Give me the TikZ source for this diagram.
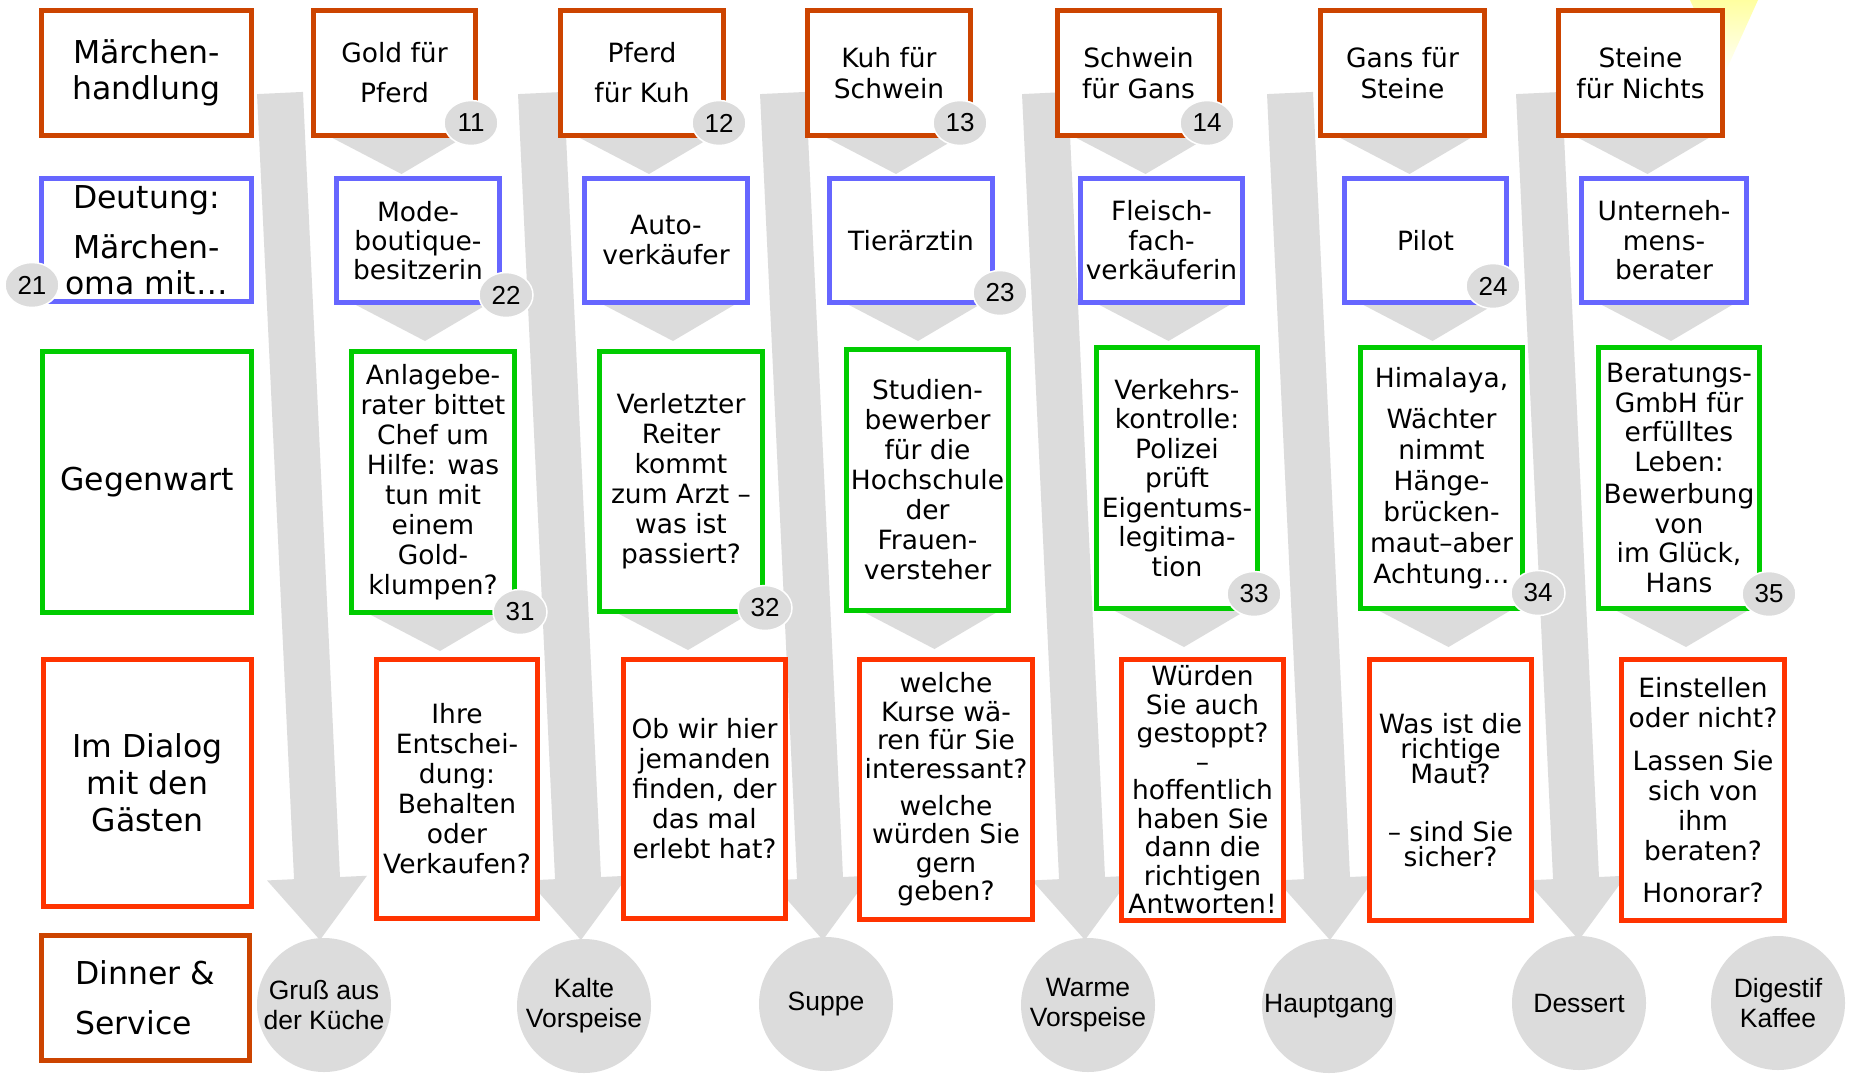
\documentclass[tikz,border=0pt]{standalone}
\usepackage{fontspec}
\setmainfont{DejaVu Sans}
\newfontfamily\arialf{Liberation Sans}
\usetikzlibrary{shapes.geometric,calc}
\definecolor{gr}{RGB}{220,220,220}
\definecolor{cbrown}{RGB}{204,68,0}
\definecolor{cblue}{RGB}{102,102,255}
\definecolor{cgreen}{RGB}{0,204,0}
\definecolor{cred}{RGB}{255,51,0}
\definecolor{pyel}{RGB}{255,255,160}
\newcommand{\fs}[2]{\fontsize{#1}{#2}\selectfont\lineskiplimit=-100pt\relax}
\pgfdeclarelayer{bg}
\pgfsetlayers{bg,main}
\tikzset{
 boxbase/.style={draw, line width=5pt, fill=white, inner sep=0pt, align=center, font=\fs{26.5}{30}},
 brownbox/.style={boxbase, draw=cbrown},
 bluebox/.style={boxbase, draw=cblue},
 greenbox/.style={boxbase, draw=cgreen},
 redbox/.style={boxbase, draw=cred},
 labelfont/.style={font=\fs{31.5}{36}},
 badge/.style={ellipse, fill=gr, draw=white, line width=1.5pt, minimum width=54pt, minimum height=45pt, inner sep=0pt, font=\arialf\fs{26}{28}},
 course/.style={circle, fill=gr, minimum size=134pt, inner sep=0pt, align=center, font=\arialf\fs{26.5}{30}},
}
\newcommand{\mybox}[7]{%
  \node[#2, minimum width={(#4-#3-5)*1pt}, minimum height={(#6-#5-5)*1pt}] (#1) at ({(#3+#4)/2},{(#5+#6)/2}) {#7};}
\newcommand{\chev}[1]{\fill[gr] ($(#1.south)+(-62,0)$) -- ($(#1.south)+(68,0)$) -- ($(#1.south)+(7,36)$) -- cycle;}
\begin{document}
\begin{tikzpicture}[x=1pt,y=-1pt]
\useasboundingbox (0,0) rectangle (1870,1074);
\begin{pgfonlayer}{bg}
\fill[white] (0,0) rectangle (1870,1074);
\shade[top color=pyel, bottom color=white] (1690,0) -- (1758,0) -- (1724,75) -- cycle;
\foreach \xt in {280,541,783,1045,1290,1539}{
 \begin{scope}[shift={(\xt,93)}, rotate=2.7]
  \fill[gr] (-23,0) -- (23,0) -- (23,786) -- (50,786) -- (0,848) -- (-50,786) -- (-23,786) -- cycle;
 \end{scope}}
\end{pgfonlayer}

% label column
\mybox{lA}{brownbox,labelfont}{39}{254}{8}{138}{Märchen-\\handlung}
\mybox{lB}{bluebox,labelfont}{39}{254}{176}{304}{Deutung:\\[14pt]Märchen-\\oma mit…}
\mybox{lC}{greenbox,labelfont}{40}{254}{349}{615}{Gegenwart}
\mybox{lD}{redbox,font=\fs{31.5}{37}}{41}{254}{657}{909}{Im Dialog\\mit den\\Gästen}
\mybox{lE}{brownbox,align=left,font=\fs{31.5}{50}}{39}{252}{933}{1063}{Dinner \&\\Service}

% row 1
\mybox{a1}{brownbox,font=\fs{26.5}{40}}{311}{478}{8}{138}{Gold für\\Pferd}
\mybox{a2}{brownbox,font=\fs{26.5}{40}}{558}{726}{8}{138}{Pferd\\für Kuh}
\mybox{a3}{brownbox,font=\fs{26.5}{31}}{805}{973}{8}{138}{Kuh für\\Schwein}
\mybox{a4}{brownbox,font=\fs{26.5}{31}}{1055}{1222}{8}{138}{Schwein\\für Gans}
\mybox{a5}{brownbox,font=\fs{26.5}{31}}{1318}{1487}{8}{138}{Gans für\\Steine}
\mybox{a6}{brownbox,font=\fs{26.5}{31}}{1556}{1725}{8}{138}{Steine\\für Nichts}

% row 2
\mybox{b1}{bluebox,font=\fs{26.5}{29}}{334}{502}{176}{305}{Mode-\\boutique-\\besitzerin}
\mybox{b2}{bluebox}{582}{750}{176}{305}{Auto-\\verkäufer}
\mybox{b3}{bluebox}{827}{995}{176}{305}{Tierärztin}
\mybox{b4}{bluebox,font=\fs{26.5}{29.5}}{1078}{1245}{176}{305}{Fleisch-\\fach-\\verkäuferin}
\mybox{b5}{bluebox}{1342}{1509}{176}{305}{Pilot}
\mybox{b6}{bluebox,font=\fs{26.5}{29.5}}{1579}{1749}{176}{305}{Unterneh-\\mens-\\berater}

% row 3
\mybox{c1}{greenbox}{349}{517}{349}{615}{Anlagebe-\\rater bittet\\Chef um\\Hilfe: was\\tun mit\\einem\\Gold-\\klumpen?}
\mybox{c2}{greenbox}{597}{765}{349}{614}{Verletzter\\Reiter\\kommt\\zum Arzt –\\was ist\\passiert?}
\mybox{c3}{greenbox}{844}{1011}{347}{613}{Studien-\\bewerber\\für die\\Hochschule\\der\\Frauen-\\versteher}
\mybox{c4}{greenbox,font=\fs{26.5}{29.5}}{1094}{1260}{345}{611}{Verkehrs-\\kontrolle:\\Polizei\\prüft\\Eigentums-\\legitima-\\tion}
\mybox{c5}{greenbox,font=\fs{26.5}{31}}{1358}{1525}{345}{611}{Himalaya,\\[10pt]Wächter\\nimmt\\Hänge-\\brücken-\\maut–aber\\Achtung…}
\mybox{c6}{greenbox,font=\fs{26.5}{29.5}}{1596}{1762}{345}{611}{Beratungs-\\GmbH für\\erfülltes\\Leben:\\[3pt]Bewerbung\\von\\im Glück,\\Hans}

% row 4
\mybox{d1}{redbox}{374}{540}{657}{921}{Ihre\\Entschei-\\dung:\\Behalten\\oder\\Verkaufen?}
\mybox{d2}{redbox}{621}{788}{657}{921}{Ob wir hier\\jemanden\\finden, der\\das mal\\erlebt hat?}
\mybox{d3}{redbox,font=\fs{26.5}{28.5}}{857}{1035}{657}{922}{welche\\Kurse wä-\\ren für Sie\\interessant?\\[8.5pt]welche\\würden Sie\\gern\\geben?}
\mybox{d4}{redbox,font=\fs{26.5}{28.5}}{1119}{1286}{657}{923}{Würden\\Sie auch\\gestoppt?\\–\\hoffentlich\\haben Sie\\dann die\\richtigen\\Antworten!}
\mybox{d5}{redbox,font=\fs{26.5}{25}}{1367}{1534}{657}{923}{Was ist die\\richtige\\Maut?\\[33pt]– sind Sie\\sicher?}
\mybox{d6}{redbox}{1619}{1787}{657}{923}{Einstellen\\oder nicht?\\[13pt]Lassen Sie\\sich von\\ihm\\beraten?\\[12pt]Honorar?}

% chevrons between rows
\begin{pgfonlayer}{bg}
\foreach \n in {a1,a2,a3,a4,a5,a6,b1,b2,b3,b4,b5,b6,c1,c2,c3,c4,c5,c6}{\chev{\n}}
\end{pgfonlayer}

% courses
\node[course] (k1) at (324,1005) {Gruß aus\\der Küche};
\node[course] (k2) at (584,1006) {Kalte\\Vorspeise};
\node[course] (k3) at (826,1004) {Suppe};
\node[course] (k4) at (1088,1005) {Warme\\Vorspeise};
\node[course] (k5) at (1329,1006) {Hauptgang};
\node[course] (k6) at (1579,1003) {Dessert};
\node[course] (k7) at (1778,1003) {Digestif\\Kaffee};

% badges
\node[badge] (n11) at (471,123) {11};
\node[badge] (n12) at (719,123) {12};
\node[badge] (n13) at (960,123) {13};
\node[badge] (n14) at (1207,123) {14};
\node[badge] (n21) at (32,285) {21};
\node[badge] (n22) at (506,295) {22};
\node[badge] (n23) at (1000,293) {23};
\node[badge] (n24) at (1493,286) {24};
\node[badge] (n31) at (520,612) {31};
\node[badge] (n32) at (765,608) {32};
\node[badge] (n33) at (1254,594) {33};
\node[badge] (n34) at (1538,593) {34};
\node[badge] (n35) at (1769,594) {35};
\end{tikzpicture}
\end{document}
